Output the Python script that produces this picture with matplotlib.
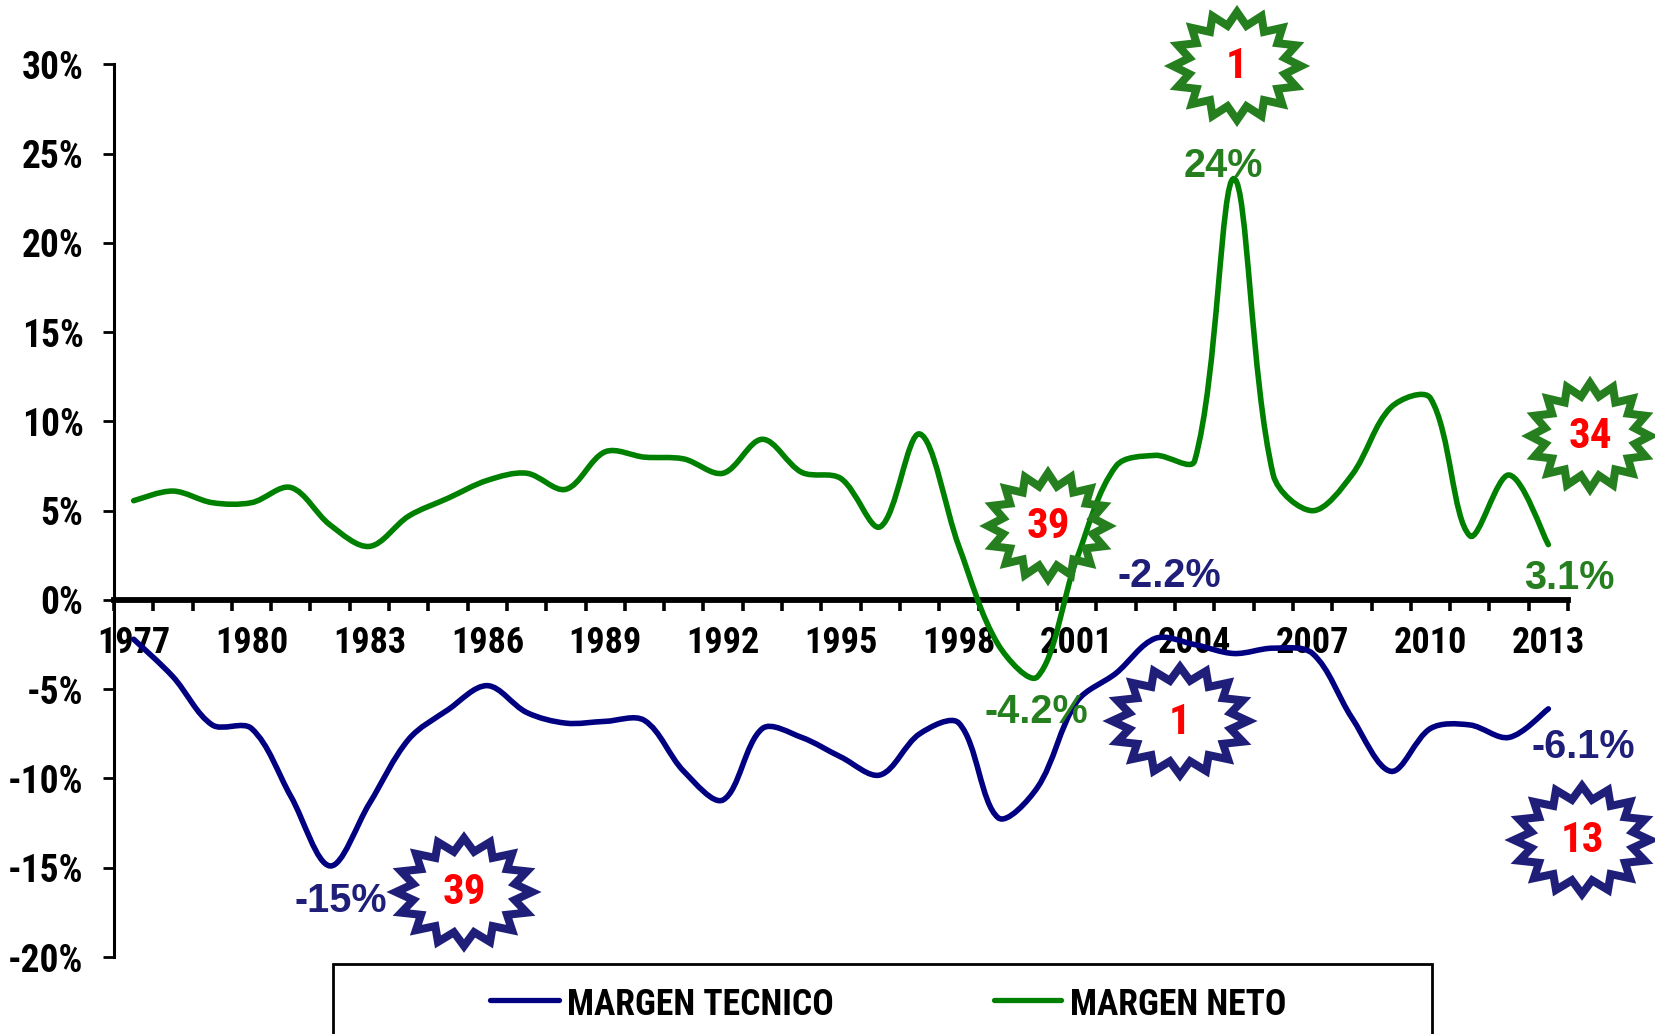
import numpy as np
import matplotlib
matplotlib.use('Agg')
import matplotlib.pyplot as plt
from matplotlib.path import Path
from matplotlib.patches import PathPatch, Polygon, Rectangle

# data
years = list(range(1977, 2014))
margen_tecnico = [-2.2, -4.3, -7.0, -7.2, -11.0, -14.9, -11.4, -7.8, -6.15, -4.8,
                  -6.3, -6.9, -6.8, -6.75, -9.6, -11.2, -7.2, -7.7, -8.8, -9.8,
                  -7.5, -6.9, -12.2, -10.5, -5.7, -4.1, -2.15, -2.5, -3.0, -2.7,
                  -3.0, -6.6, -9.6, -7.2, -7.0, -7.7, -6.1]
margen_neto = [5.56, 6.1, 5.45, 5.45, 6.3, 4.2, 3.0, 4.7, 5.7, 6.7,
               7.1, 6.2, 8.3, 8.0, 7.9, 7.1, 9.0, 7.15, 6.8, 4.1,
               9.3, 3.0, -2.5, -4.3, 2.3, 7.5, 8.1, 7.8, 23.6, 7.0,
               5.0, 7.0, 10.8, 11.3, 3.6, 7.0, 3.1]
y_ticks = [30, 25, 20, 15, 10, 5, 0, -5, -10, -15, -20]
x_labels = years[::3]

BLUE_LINE = '#000080'
GREEN_LINE = '#008000'
BLUE_TXT = '#1f1f7a'
GREEN_TXT = '#267f1f'

plt.rcParams['font.family'] = ['Roboto Condensed', 'PT Sans Narrow', 'Liberation Sans', 'DejaVu Sans']
plt.rcParams['font.weight'] = 'bold'

W, H = 1656, 1034
fig = plt.figure(figsize=(W / 100, H / 100), dpi=100)
ax = fig.add_axes([114 / W, 1 - 957 / H, (1568 - 114) / W, (957 - 64.4) / H])
ax.set_xlim(-0.5, 36.5)
ax.set_ylim(-20, 30)

PX_X = (1568 - 114) / 37
PX_Y = (957 - 64.4) / 50


# excel style smoothed line: control points weighted by segment length on screen
def smooth_path(values):
    pts = np.column_stack([np.arange(len(values), dtype=float), np.array(values, dtype=float)])
    scale = np.array([PX_X, PX_Y])
    dist = np.linalg.norm(np.diff(pts, axis=0) * scale, axis=1)
    verts = [pts[0]]
    codes = [Path.MOVETO]
    for i in range(len(pts) - 1):
        p0 = pts[max(i - 1, 0)]
        p1 = pts[i]
        p2 = pts[i + 1]
        p3 = pts[min(i + 2, len(pts) - 1)]
        d1 = dist[max(i - 1, 0)]
        d2 = dist[i]
        d3 = dist[min(i + 1, len(dist) - 1)]
        c1 = p1 + (p2 - p0) * d2 / (d1 + d2) / 3
        c2 = p2 - (p3 - p1) * d2 / (d2 + d3) / 3
        verts += [c1, c2, p2]
        codes += [Path.CURVE4] * 3
    return Path(verts, codes)


ax.add_patch(PathPatch(smooth_path(margen_tecnico), fc='none', ec=BLUE_LINE, lw=4, capstyle='round', zorder=3))
ax.add_patch(PathPatch(smooth_path(margen_neto), fc='none', ec=GREEN_LINE, lw=4, capstyle='round', zorder=3))

for s in ['top', 'right']:
    ax.spines[s].set_visible(False)
ax.spines['left'].set_linewidth(2.2)
ax.spines['bottom'].set_position(('data', 0))
ax.spines['bottom'].set_linewidth(4.2)

ax.set_yticks(y_ticks)
ax.set_yticklabels([f'{v}%' for v in y_ticks], fontsize=27)
ax.tick_params(axis='y', length=8, width=2, pad=14)

ax.set_xticks(np.arange(0, 37, 3))
ax.set_xticklabels(x_labels, fontsize=26)
ax.set_xticks(np.arange(-0.5, 37), minor=True)
ax.tick_params(axis='x', which='major', length=0, pad=18)
ax.tick_params(axis='x', which='minor', length=8, width=2.6)

# overlay in pixel coordinates for stars, labels and legend box
ov = fig.add_axes([0, 0, 1, 1], facecolor='none')
ov.set_xlim(0, W)
ov.set_ylim(H, 0)
ov.axis('off')


def star(cx, cy, rx, ry, color, txt):
    ang = np.pi / 16 * np.arange(32)
    r = np.where(np.arange(32) % 2 == 0, 1.0, 0.76)
    xy = np.column_stack([cx + rx * r * np.cos(ang), cy + ry * r * np.sin(ang)])
    ov.add_patch(Polygon(xy, closed=True, fc='none', ec=color, lw=5.8, joinstyle='miter', zorder=4))
    ov.text(cx, cy + 1, txt, color='#ff0000', fontsize=31, ha='center', va='center', zorder=5)


star(1237, 66, 64, 54, GREEN_TXT, '1')
star(1048, 526, 60, 53, GREEN_TXT, '39')
star(1590, 436, 60, 53, GREEN_TXT, '34')
star(464, 892, 68, 54, BLUE_TXT, '39')
star(1180, 721, 68, 54, BLUE_TXT, '1')
star(1582, 840, 68, 54, BLUE_TXT, '13')

labels = [(341, 901, '-15%', BLUE_TXT), (1169, 576, '-2.2%', BLUE_TXT), (1583, 747, '-6.1%', BLUE_TXT),
          (1223, 166, '24%', GREEN_TXT), (1036, 712, '-4.2%', GREEN_TXT), (1569, 578, '3.1%', GREEN_TXT)]
for x, y, t, c in labels:
    ov.text(x, y, t, color=c, fontsize=28.5, fontweight='bold', ha='center', va='center', zorder=5,
            family=['Liberation Sans', 'DejaVu Sans'])

# legend box runs off the bottom edge
ov.add_patch(Rectangle((333.5, 964), 1099, 90, fc='white', ec='black', lw=2, clip_on=True, zorder=2))
ov.plot([490, 559], [1000, 1000], color=BLUE_LINE, lw=3.8, solid_capstyle='round', zorder=3)
ov.plot([994, 1061], [1000, 1000], color=GREEN_LINE, lw=3.8, solid_capstyle='round', zorder=3)
ov.text(567, 1005, 'MARGEN TECNICO', fontsize=25.7, va='center', ha='left')
ov.text(1070, 1005, 'MARGEN NETO', fontsize=25.7, va='center', ha='left')

fig.savefig('out.png', dpi=100, facecolor='white')
